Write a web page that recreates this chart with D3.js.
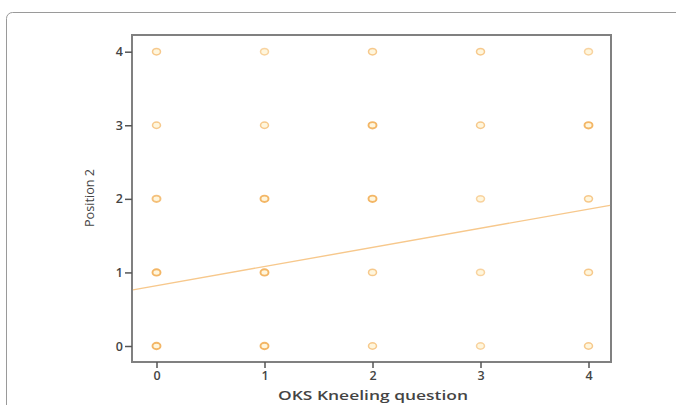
<!DOCTYPE html>
<html>
<head>
<meta charset="utf-8">
<script src="https://cdn.jsdelivr.net/npm/d3@7"></script>
<style>
  html, body { margin: 0; padding: 0; background: #fff; }
  svg { display: block; }
  text { font-family: "Open Sans", "DejaVu Sans", sans-serif; fill: #444; }
</style>
</head>
<body>
<svg id="chart" width="676" height="405"></svg>
<script>
// Score categories on each axis
const xCategories = [0, 1, 2, 3, 4];
const yCategories = [0, 1, 2, 3, 4];
const xTickLabels = ["0", "1", "2", "3", "4"];
const yTickLabels = ["0", "1", "2", "3", "4"];

// Number of overlapping responses at each (kneeling, position) cell, rows y = 0..4
const cellCounts = [
  [4, 4, 2, 1, 2],   // position 0
  [4, 4, 2, 1, 2],   // position 1
  [3, 4, 4, 1, 2],   // position 2
  [2, 2, 4, 2, 4],   // position 3
  [2, 1, 2, 2, 1]    // position 4
];

// Linear fit line: position = intercept + slope * kneeling
const fitIntercept = 0.82;
const fitSlope = 0.26;

const xLabel = "OKS Kneeling question";
const yLabel = "Position 2";

const svg = d3.select("#chart");

// outer card border with rounded corner
svg.append("rect")
  .attr("x", 6.5).attr("y", 12.5)
  .attr("width", 700).attr("height", 420)
  .attr("rx", 6)
  .attr("fill", "none")
  .attr("stroke", "#9a9a9a")
  .attr("stroke-width", 1);

const frame = { left: 132, top: 35, right: 611, bottom: 362 };

const x = d3.scaleLinear().domain([0, 4]).range([156.5, 588.5]);
const y = d3.scaleLinear().domain([0, 4]).range([346, 51.7]);

// plot frame
svg.append("rect")
  .attr("x", frame.left).attr("y", frame.top)
  .attr("width", frame.right - frame.left)
  .attr("height", frame.bottom - frame.top)
  .attr("fill", "#fff")
  .attr("stroke", "#808080")
  .attr("stroke-width", 2);

// x axis
const xAxis = d3.axisBottom(x)
  .tickValues(xCategories)
  .tickFormat((d, i) => xTickLabels[i])
  .tickSize(6)
  .tickPadding(3);
const gx = svg.append("g")
  .attr("transform", `translate(0,${frame.bottom})`)
  .call(xAxis);
gx.select(".domain").remove();
gx.selectAll(".tick line").attr("stroke", "#555").attr("stroke-width", 1.5);
gx.selectAll(".tick text").attr("font-size", 12.5).attr("font-weight", 600).attr("fill", "#555");

// y axis
const yAxis = d3.axisLeft(y)
  .tickValues(yCategories)
  .tickFormat((d, i) => yTickLabels[i])
  .tickSize(7)
  .tickPadding(2);
const gy = svg.append("g")
  .attr("transform", `translate(${frame.left},0)`)
  .call(yAxis);
gy.select(".domain").remove();
gy.selectAll(".tick line").attr("stroke", "#555").attr("stroke-width", 1.5);
gy.selectAll(".tick text").attr("font-size", 12.5).attr("font-weight", 600).attr("fill", "#555");

// axis titles
svg.append("text")
  .attr("x", 373).attr("y", 400)
  .attr("text-anchor", "middle")
  .attr("font-size", 12.5)
  .attr("font-weight", 600)
  .attr("fill", "#4a4a4a")
  .attr("textLength", 190)
  .attr("lengthAdjust", "spacingAndGlyphs")
  .text(xLabel);

svg.append("text")
  .attr("transform", `translate(94,198) rotate(-90)`)
  .attr("text-anchor", "middle")
  .attr("font-size", 12)
  .attr("textLength", 58)
  .attr("lengthAdjust", "spacingAndGlyphs")
  .text(yLabel);

// fit line across the frame
const xLo = x.invert(frame.left + 1), xHi = x.invert(frame.right - 1);
svg.append("line")
  .attr("x1", x(xLo)).attr("y1", y(fitIntercept + fitSlope * xLo))
  .attr("x2", x(xHi)).attr("y2", y(fitIntercept + fitSlope * xHi))
  .attr("stroke", "#f7c88c")
  .attr("stroke-width", 1.4);

// data markers
const cells = [];
yCategories.forEach((yv, r) => {
  xCategories.forEach((xv, c) => {
    cells.push({ x: xv, y: yv, n: cellCounts[r][c] });
  });
});
const opacity = d3.scaleLinear().domain([1, 4]).range([0.55, 0.95]);

svg.append("g").selectAll("ellipse")
  .data(cells)
  .join("ellipse")
  .attr("cx", d => x(d.x))
  .attr("cy", d => y(d.y))
  .attr("rx", 4)
  .attr("ry", 3.2)
  .attr("fill", "#fff6dd")
  .attr("stroke", "#f2b25e")
  .attr("stroke-width", d => d.n >= 3 ? 1.9 : 1.5)
  .attr("stroke-opacity", d => opacity(d.n));
</script>
</body>
</html>
